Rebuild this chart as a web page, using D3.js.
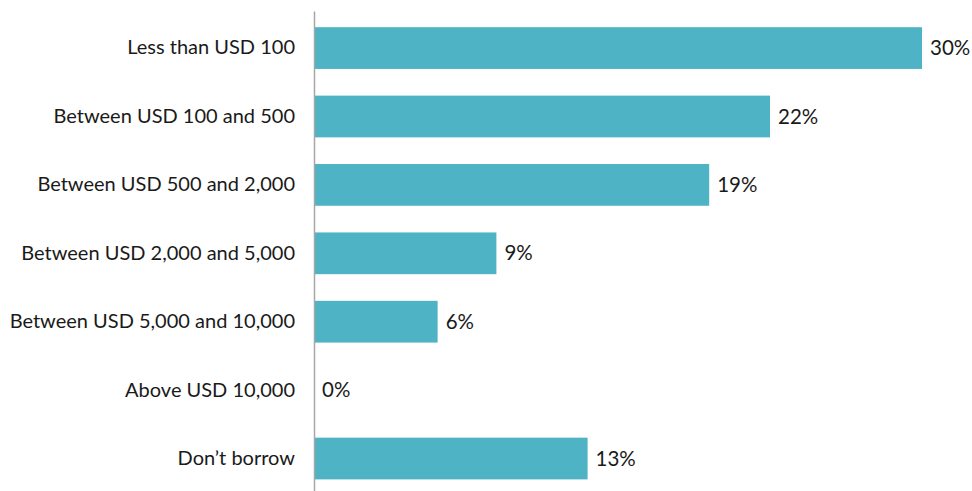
<!DOCTYPE html>
<html>
<head>
<meta charset="utf-8">
<script src="https://cdn.jsdelivr.net/npm/d3@7"></script>
<style>
  body { margin: 0; background: #fff; }
  svg text { font-family: Lato, "Open Sans", sans-serif; fill: #1a1a1a; }
</style>
</head>
<body>
<div id="chart"></div>
<script>
const categories = [
  'Less than USD 100',
  'Between USD 100 and 500',
  'Between USD 500 and 2,000',
  'Between USD 2,000 and 5,000',
  'Between USD 5,000 and 10,000',
  'Above USD 10,000',
  'Don\u2019t borrow'
];
// shares in percent
const values = [30, 22.5, 19.5, 9, 6.1, 0, 13.5];
const valueLabels = ['30%', '22%', '19%', '9%', '6%', '0%', '13%'];

const width = 972;
const height = 491;
const axisX = 314;

const svg = d3.select('#chart')
  .append('svg')
  .attr('width', width)
  .attr('height', height);

const x = d3.scaleLinear()
  .domain([0, 30])
  .range([axisX, 922]);

const y = d3.scaleBand()
  .domain(categories)
  .range([11, 495.6])
  .paddingInner(0.39)
  .paddingOuter(0.237);

svg.selectAll('rect.bar')
  .data(values)
  .enter()
  .append('rect')
  .attr('class', 'bar')
  .attr('x', x(0))
  .attr('y', (d, i) => y(categories[i]))
  .attr('width', d => x(d) - x(0))
  .attr('height', y.bandwidth())
  .attr('fill', '#4fb3c6');

svg.selectAll('text.val')
  .data(values)
  .enter()
  .append('text')
  .attr('class', 'val')
  .attr('x', d => x(d) + 8)
  .attr('y', (d, i) => y(categories[i]) + y.bandwidth() / 2)
  .attr('dy', '0.35em')
  .style('font-size', '20.5px')
  .text((d, i) => valueLabels[i]);

const yAxis = svg.append('g')
  .attr('transform', `translate(${axisX},0)`)
  .call(d3.axisLeft(y).tickSize(0).tickPadding(19));

yAxis.select('.domain')
  .attr('stroke', '#a6a6a6')
  .attr('stroke-width', 1.5);

yAxis.selectAll('text')
  .style('font-size', '20px')
  .style('font-family', 'Lato, "Open Sans", sans-serif')
  .attr('fill', '#1a1a1a');
</script>
</body>
</html>
